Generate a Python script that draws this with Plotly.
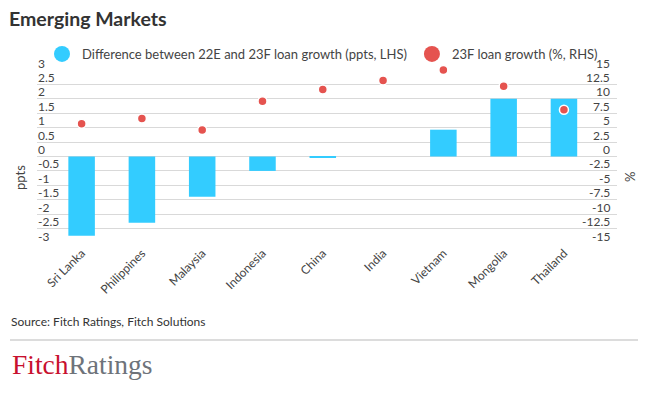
import plotly.graph_objects as go

countries = ["Sri Lanka", "Philippines", "Malaysia", "Indonesia", "China",
             "India", "Vietnam", "Mongolia", "Thailand"]
diff_ppts = [-2.75, -2.3, -1.4, -0.5, -0.05, 0.0, 0.93, 2.0, 2.0]
growth_23f = [5.7, 6.6, 4.6, 9.6, 11.6, 13.2, 15.0, 12.2, 8.1]

left_ticks = [3, 2.5, 2, 1.5, 1, 0.5, 0, -0.5, -1, -1.5, -2, -2.5, -3]
left_labels = ["3", "2.5", "2", "1.5", "1", "0.5", "0", "-0.5", "-1", "-1.5", "-2", "-2.5", "-3"]
right_ticks = [15, 12.5, 10, 7.5, 5, 2.5, 0, -2.5, -5, -7.5, -10, -12.5, -15]
right_labels = ["15", "12.5", "10", "7.5", "5", "2.5", "0", "-2.5", "-5", "-7.5", "-10", "-12.5", "-15"]

BLUE = "#33CCFF"
RED = "#E5534F"
FONT = "Lato"
W, H = 648, 395

fig = go.Figure()
fig.add_trace(go.Bar(x=countries, y=diff_ppts, marker=dict(color=BLUE, line_width=0),
                     showlegend=False, yaxis="y"))
fig.add_trace(go.Scatter(x=countries, y=growth_23f, mode="markers", cliponaxis=False,
                         marker=dict(color=RED, size=9, line=dict(color="white", width=1.5)),
                         showlegend=False, yaxis="y2"))
# legend entries
fig.add_trace(go.Scatter(x=[None], y=[None], mode="markers",
                         name="Difference between 22E and 23F loan growth (ppts, LHS)",
                         marker=dict(color=BLUE, size=16, symbol="circle")))
fig.add_trace(go.Scatter(x=[None], y=[None], mode="markers", name="23F loan growth (%, RHS)",
                         marker=dict(color=RED, size=16, symbol="circle")))

ml, mr, mt, mb = 37, 31, 70, 152
PW, PH = W - ml - mr, H - mt - mb


def px_x(p):
    return (p - ml) / PW


def px_y(p):
    return 1 - (p - mt) / PH


fig.update_layout(
    width=W, height=H,
    margin=dict(l=ml, r=mr, t=mt, b=mb, autoexpand=False),
    paper_bgcolor="white", plot_bgcolor="white",
    font=dict(family=FONT, size=12, color="#444"),
    bargap=0.56,
    showlegend=True,
    hovermode=False,
    legend=dict(orientation="h", xref="container", yref="container",
                x=42 / W, y=1 - 54 / H, xanchor="left", yanchor="middle",
                font=dict(family=FONT, size=13, color="#444"),
                itemsizing="trace", bgcolor="rgba(0,0,0,0)"),
    title=dict(text="Emerging Markets", xref="container", yref="container",
               x=9 / W, y=1 - 19 / H, xanchor="left", yanchor="middle",
               font=dict(family=FONT, size=19.5, color="#333", weight="bold")),
    xaxis=dict(range=[-0.74, 8.88], showgrid=False, zeroline=False, showline=False,
               ticks="", tickangle=-45, tickfont=dict(family=FONT, size=12, color="#444"),
               automargin=False),
    yaxis=dict(range=[-3, 3], tickvals=left_ticks, showticklabels=False,
               showgrid=True, gridcolor="#d9d9d9", gridwidth=1, zeroline=False,
               showline=False, ticks="", automargin=False),
    yaxis2=dict(range=[-15, 15], tickvals=right_ticks, showticklabels=False,
                overlaying="y", side="right", showgrid=False, zeroline=False,
                showline=False, ticks="", automargin=False),
)

annotations = []
# axis tick labels, sitting just above their gridlines
for v, t in zip(left_ticks, left_labels):
    annotations.append(dict(text=t, xref="paper", yref="y", x=0, y=v, yshift=7,
                            xanchor="left", yanchor="middle", showarrow=False,
                            borderpad=0, font=dict(family=FONT, size=12, color="#444")))
for v, t in zip(right_ticks, right_labels):
    annotations.append(dict(text=t, xref="paper", yref="y2", x=1, y=v, yshift=7, xshift=-6,
                            xanchor="right", yanchor="middle", showarrow=False,
                            borderpad=0, font=dict(family=FONT, size=12, color="#444")))

annotations += [
    dict(text="ppts", xref="paper", yref="paper", x=px_x(20), y=px_y(178), textangle=-90,
         showarrow=False, font=dict(family=FONT, size=13, color="#444"),
         xanchor="center", yanchor="middle"),
    dict(text="%", xref="paper", yref="paper", x=px_x(630), y=px_y(177), textangle=-90,
         showarrow=False, font=dict(family=FONT, size=13, color="#444"),
         xanchor="center", yanchor="middle"),
    dict(text="Source: Fitch Ratings, Fitch Solutions", xref="paper", yref="paper",
         x=px_x(9), y=px_y(321), showarrow=False,
         font=dict(family=FONT, size=12, color="#333"), xanchor="left", yanchor="middle"),
    dict(text="<span style='color:#C8102E'>Fitch</span><span style='color:#6E737A'>Ratings</span>",
         xref="paper", yref="paper", x=px_x(10), y=px_y(364), showarrow=False,
         font=dict(family="Liberation Serif", size=27.5), xanchor="left", yanchor="middle"),
]
fig.update_layout(annotations=annotations)
fig.add_shape(type="line", xref="paper", yref="paper",
              x0=px_x(10), x1=px_x(638), y0=px_y(340), y1=px_y(340),
              line=dict(color="#d0d0d0", width=1.5))

fig.write_html("out.html", config={"displayModeBar": False},
               post_script="document.body.style.margin='0';")
